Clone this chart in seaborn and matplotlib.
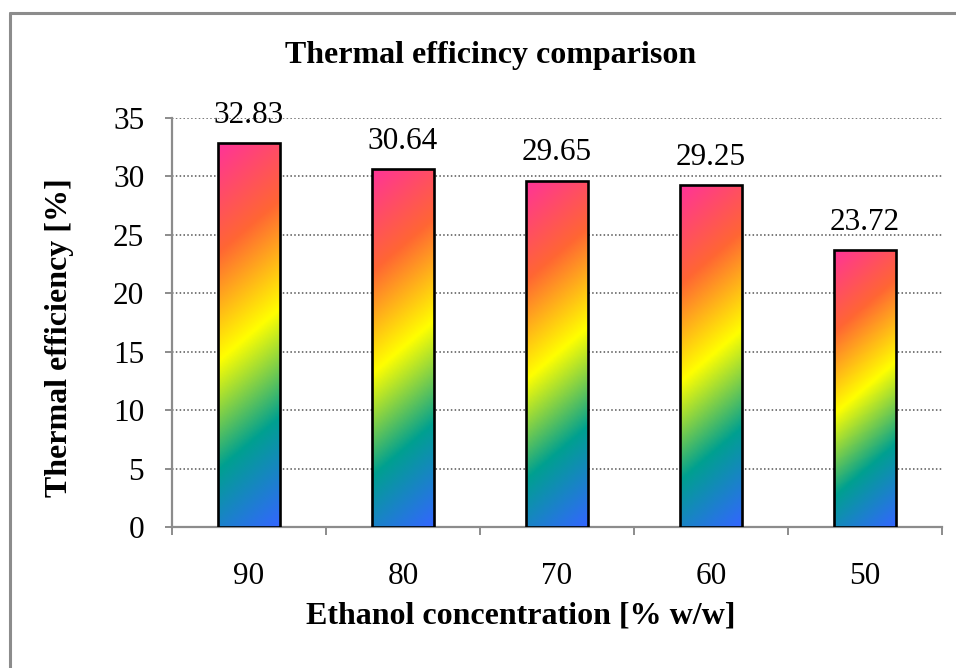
import numpy as np
import pandas as pd
import matplotlib
matplotlib.use("Agg")
import matplotlib.pyplot as plt
from matplotlib.colors import LinearSegmentedColormap
from matplotlib.lines import Line2D
import seaborn as sns

categories = ["90", "80", "70", "60", "50"]
values = [32.83, 30.64, 29.65, 29.25, 23.72]
yticks = [0, 5, 10, 15, 20, 25, 30, 35]
title = "Thermal efficincy comparison"
xlabel = "Ethanol concentration [% w/w]"
ylabel = "Thermal efficiency [%]"

sns.set_theme(style="white")
plt.rcParams['font.family'] = ['Liberation Serif', 'DejaVu Serif']
plt.rcParams['text.color'] = 'black'
plt.rcParams['xtick.color'] = 'black'
plt.rcParams['ytick.color'] = 'black'

W, H = 956, 668
fig = plt.figure(figsize=(W / 100, H / 100), dpi=100)
ax = fig.add_axes([172 / W, 1 - 527 / H, (942 - 172) / W, (527 - 118) / H])

df = pd.DataFrame({"cat": categories, "val": values})
sns.barplot(data=df, x="cat", y="val", order=categories, width=0.4,
            color="white", edgecolor="black", linewidth=1.9, ax=ax, zorder=3)

ax.set_ylim(0, 35)
ax.set_xlim(-0.5, len(categories) - 0.5)
ax.set_yticks(yticks)
ax.set_yticklabels([str(t) for t in yticks])
ax.set_axisbelow(True)
ax.yaxis.grid(True, linestyle=(0, (1, 1.5)), color="#555555", linewidth=1.1)
ax.xaxis.grid(False)

for s in ["top", "right"]:
    ax.spines[s].set_visible(False)
for s in ["left", "bottom"]:
    ax.spines[s].set_color("#8c8c8c")
    ax.spines[s].set_linewidth(1.6)

ax.tick_params(axis="y", which="major", left=True, length=5, width=1.4, color="#8c8c8c",
               labelcolor="black", pad=15, labelsize=22.5)
ax.tick_params(axis="x", which="major", bottom=False, length=0, pad=25, labelsize=22.5,
               labelcolor="black")
ax.set_xticks(np.arange(-0.5, len(categories)), minor=True)
ax.tick_params(axis="x", which="minor", bottom=True, length=6, width=1.4, color="#8c8c8c")
ax.set_xlabel("")
ax.set_ylabel("")

# gradient fills
cmap = LinearSegmentedColormap.from_list(
    "rb", [(0.0, "#ff3399"), (0.25, "#ff6633"), (0.5, "#ffff00"),
           (0.75, "#00a090"), (1.0, "#3366ff")])
ppu_x = (942 - 172) / 5.0
ppu_y = (527 - 118) / 35.0
k = 0.85
for p in list(ax.patches):
    x0 = p.get_x()
    w = p.get_width()
    h = p.get_height()
    wp = w * ppu_x
    hp = h * ppu_y
    ny, nx = 400, 80
    yy = np.linspace(0, hp, ny)[:, None]
    xx = np.linspace(0, wp, nx)[None, :]
    t = (yy + k * xx) / (hp + k * wp)
    im = ax.imshow(t, cmap=cmap, vmin=0, vmax=1, aspect="auto",
                   extent=(x0, x0 + w, 0, h), origin="upper", zorder=2.9,
                   interpolation="bilinear")
    im.set_clip_path(p)
    p.set_facecolor("none")
    p.set_zorder(3)

ax.set_xlim(-0.5, len(categories) - 0.5)
ax.set_ylim(0, 35)

for i, v in enumerate(values):
    ax.annotate(f"{v:.2f}", (i, v), xytext=(0, 20), textcoords="offset points",
                ha="center", va="center", fontsize=22.5, color="black", zorder=5)

fig.text(491 / W, 1 - 55 / H, title, ha="center", va="center",
         fontsize=23, fontweight="bold", color="black")
fig.text(521 / W, 1 - 616 / H, xlabel, ha="center", va="center",
         fontsize=23, fontweight="bold", color="black")
fig.text(60 / W, 1 - 338 / H, ylabel, ha="center", va="center", rotation=90,
         fontsize=23, fontweight="bold", color="black")

# outer chart frame (left and top edges visible)
fig.add_artist(Line2D([9.5 / W, 9.5 / W], [0, 1 - 13 / H], color="#8c8c8c", linewidth=2.2,
                      transform=fig.transFigure))
fig.add_artist(Line2D([9.5 / W, 1], [1 - 13 / H, 1 - 13 / H], color="#8c8c8c", linewidth=2.2,
                      transform=fig.transFigure))

fig.savefig("out.png", dpi=100, facecolor="white")
